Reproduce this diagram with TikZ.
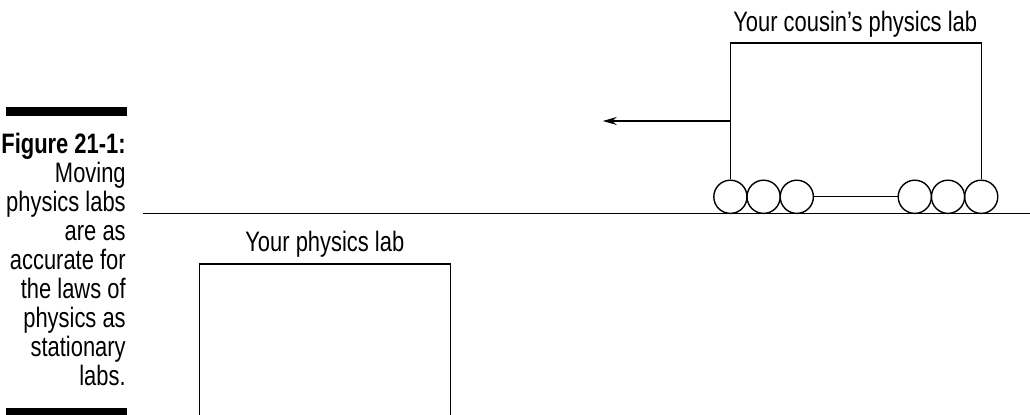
\documentclass[tikz,border=0pt]{standalone}
\usepackage{fontspec}
\setmainfont{Liberation Sans}[FakeStretch=0.78]
\usetikzlibrary{arrows.meta, positioning}

\begin{document}
\begin{tikzpicture}[>={Stealth[length=0.35cm,width=0.2cm,inset=0.12cm]}, line width=1pt,
  wheel/.style={draw, circle, minimum size=0.83cm, inner sep=0pt},
  lbl/.style={font=\fontsize{20}{22}\selectfont, inner sep=0pt, anchor=base},
  captext/.style={font=\fontsize{20}{22}\selectfont, inner sep=0pt, anchor=base east}]

  \useasboundingbox (0,0) rectangle (25.75,10.375);

  % caption between the two bars
  \fill (0.15,7.475) rectangle (3.175,7.7);
  \fill (0.15,0) rectangle (3.175,0.175);
  \node[captext, font=\fontsize{20}{22}\selectfont\bfseries] (cap0) at (3.16,6.525) {Figure 21-1:};
  \foreach \t [count=\i] in {Moving, physics labs, are as, accurate for,
                             the laws of, physics as, stationary, labs.}
    \node[captext] (cap\i) at (3.16,6.525-0.725*\i) {\t};

  % ground
  \coordinate (g0) at (3.575,5.04);
  \coordinate (g1) at (25.75,5.04);
  \draw (g0) -- (g1);

  % moving lab on wheels
  \foreach \x [count=\i] in {18.26,19.09,19.92,22.87,23.70,24.53}
    \node[wheel] (w\i) at (\x,5.455) {};
  \draw (w3.east) -- (w4.west);
  \draw (w1.north) -- ++(0,3.41) -| (w6.north);
  \node[lbl] (cousinlab) at (21.38,9.58) {Your cousin’s physics lab};

  \coordinate (c0) at (18.26,7.35);
  \coordinate (tip) at (15.07,7.35);
  \draw[->] (c0) -- (tip);

  % stationary lab
  \coordinate (l0) at (4.99,-0.1);
  \coordinate (l1) at (11.26,-0.1);
  \draw (l0) -- ++(0,3.87) -| (l1);
  \node[lbl] (mylab) at (8.12,4.08) {Your physics lab};

\end{tikzpicture}
\end{document}
